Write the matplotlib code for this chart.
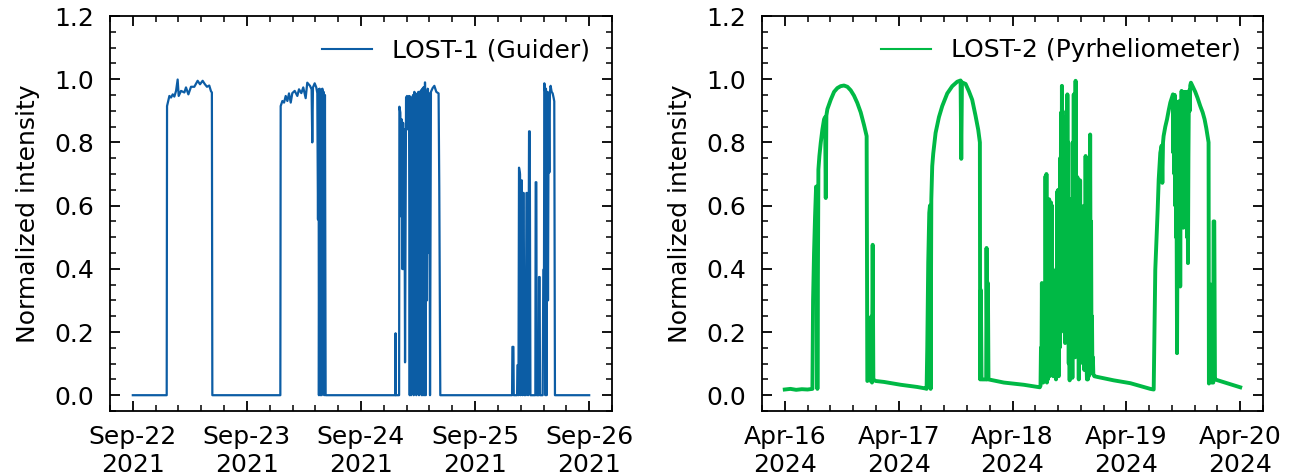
import matplotlib
matplotlib.use("Agg")
import matplotlib.pyplot as plt
import matplotlib.dates as mdates
from matplotlib.ticker import AutoMinorLocator, MultipleLocator, FormatStrFormatter
import pandas as pd

# ---------------- data ----------------
lost1_start = "2021-09-22"
lost1_days = [
    0.0, 0.297, 0.300, 0.3205, 0.335, 0.350, 0.364, 0.379, 0.393, 0.402, 0.4225, 0.452, 0.466,
    0.487, 0.510, 0.539, 0.568, 0.589, 0.612, 0.632, 0.650, 0.670, 0.685, 0.693, 0.697,
    1.293, 1.296, 1.311, 1.3255, 1.340, 1.3546, 1.369, 1.384, 1.398, 1.419, 1.442, 1.4566,
    1.477, 1.494, 1.515, 1.529, 1.553, 1.567, 1.573, 1.579, 1.594, 1.608, 1.617, 1.623,
    1.6285, 1.631, 1.637, 1.643, 1.649, 1.655, 1.661, 1.666, 1.672, 1.678, 1.684, 1.690,
    2.301, 2.303, 2.305, 2.334, 2.3365, 2.345, 2.351, 2.357, 2.363, 2.369, 2.374, 2.380,
    2.386, 2.395, 2.4035, 2.412, 2.421,
    2.427, 2.433, 2.439, 2.4445, 2.450, 2.456, 2.462, 2.468, 2.4735, 2.479, 2.485, 2.491,
    2.497, 2.503, 2.5085, 2.514, 2.520, 2.526, 2.532, 2.538, 2.543, 2.549, 2.555, 2.561,
    2.567, 2.573, 2.578, 2.584,
    2.587, 2.593, 2.599, 2.605, 2.613, 2.628, 2.643, 2.660, 2.680, 2.686, 2.695,
    3.324, 3.327, 3.336, 3.339, 3.368, 3.371, 3.377, 3.380, 3.385, 3.394, 3.397, 3.403,
    3.409, 3.415, 3.420, 3.426, 3.432, 3.438, 3.444, 3.450, 3.458, 3.4645, 3.473, 3.479,
    3.485, 3.528, 3.531, 3.537, 3.540, 3.557, 3.560, 3.566, 3.569, 3.5925, 3.598, 3.604,
    3.607, 3.613, 3.616, 3.621, 3.627, 3.633, 3.639, 3.645, 3.651, 3.656, 3.662, 3.671,
    3.680, 3.689, 3.694, 3.700,
    4.0,
]
lost1_values = [
    0.0, 0.0, 0.915, 0.947, 0.942, 0.952, 0.945, 0.963, 0.999, 0.947, 0.963, 0.958, 0.974,
    0.952, 0.976, 0.976, 0.995, 0.984, 0.995, 0.984, 0.976, 0.980, 0.962, 0.958, 0.0,
    0.0, 0.915, 0.931, 0.926, 0.947, 0.931, 0.955, 0.926, 0.956, 0.963, 0.947, 0.968,
    0.956, 0.974, 0.940, 0.989, 0.979, 0.968, 0.800, 0.974, 0.987, 0.974, 0.956, 0.556,
    0.968, 0.0, 0.97, 0.0, 0.96, 0.0, 0.97, 0.02, 0.96, 0.0, 0.95, 0.0,
    0.0, 0.196, 0.0, 0.0, 0.913, 0.894, 0.566, 0.873, 0.399, 0.862, 0.399, 0.841,
    0.104, 0.942, 0.947, 0.841, 0.947,
    0.0, 0.945, 0.0, 0.94, 0.01, 0.95, 0.0, 0.96, 0.40, 0.955, 0.0, 0.95,
    0.02, 0.96, 0.0, 0.96, 0.05, 0.965, 0.0, 0.97, 0.0, 0.975, 0.0, 0.99,
    0.0, 0.96, 0.3, 0.97,
    0.968, 0.45, 0.955, 0.0, 0.96, 0.972, 0.979, 0.96, 0.955, 0.661, 0.0,
    0.0, 0.153, 0.153, 0.0, 0.0, 0.095, 0.095, 0.0, 0.72, 0.70, 0.0, 0.34,
    0.68, 0.0, 0.64, 0.64, 0.0, 0.3, 0.0, 0.64, 0.64, 0.0, 0.835, 0.835,
    0.0, 0.0, 0.674, 0.674, 0.0, 0.0, 0.374, 0.374, 0.0, 0.0, 0.397, 0.40,
    0.987, 0.96, 0.0, 0.97, 0.0, 0.96, 0.30, 0.957, 0.705, 0.96, 0.979, 0.96,
    0.955, 0.94, 0.93, 0.0,
    0.0,
]

lost2_start = "2024-04-16"
lost2_days = [
    # day 1
    0.0, 0.05, 0.10, 0.15, 0.20, 0.2427, 0.2485, 0.257, 0.266, 0.275, 0.281, 0.2865,
    0.2953, 0.304, 0.316, 0.3304, 0.345, 0.354, 0.360, 0.3655, 0.374, 0.4035, 0.433,
    0.462, 0.491, 0.520, 0.550, 0.579, 0.608, 0.637, 0.667, 0.696, 0.719, 0.725, 0.740,
    0.754, 0.760, 0.766, 0.772, 0.778, 0.798, 0.871, 1.018, 1.164, 1.240,
    # day 2
    1.2456, 1.2515, 1.260, 1.269, 1.275, 1.281, 1.287, 1.295, 1.304, 1.3245, 1.354,
    1.383, 1.427, 1.471, 1.5146, 1.544, 1.550, 1.556, 1.588, 1.617, 1.646, 1.675, 1.699,
    1.7135, 1.716, 1.722, 1.728, 1.769, 1.772, 1.778, 1.784, 1.789, 1.924, 2.099, 2.240,
    # day 3
    2.246, 2.250, 2.254, 2.258, 2.262, 2.266, 2.270, 2.274, 2.278, 2.282, 2.286, 2.290,
    2.294, 2.298, 2.302, 2.306, 2.310, 2.314, 2.318, 2.322, 2.326, 2.330, 2.334, 2.338,
    2.342, 2.346, 2.350, 2.354, 2.358, 2.362, 2.366, 2.370, 2.374, 2.378, 2.382, 2.386,
    2.390, 2.394, 2.398, 2.402, 2.406, 2.410, 2.414, 2.418, 2.422, 2.426, 2.430, 2.434,
    2.438, 2.442, 2.446, 2.450, 2.454, 2.458, 2.462, 2.466, 2.470, 2.474, 2.478, 2.482,
    2.486, 2.490, 2.494, 2.498, 2.502, 2.506, 2.510, 2.514, 2.518, 2.522, 2.526, 2.530,
    2.534, 2.538, 2.542, 2.546, 2.550, 2.554, 2.558, 2.562, 2.566, 2.570, 2.574, 2.578,
    2.582, 2.586, 2.590, 2.594, 2.598, 2.602, 2.606, 2.610, 2.614, 2.618, 2.622, 2.626,
    2.630, 2.634, 2.638, 2.642, 2.646, 2.650, 2.654, 2.658, 2.662, 2.666, 2.670, 2.674,
    2.678, 2.682, 2.686, 2.690, 2.694, 2.698, 2.702, 2.706, 2.710, 2.719, 2.743, 2.889,
    3.035, 3.2105,
    # day 4
    3.240, 3.246, 3.254, 3.263, 3.275, 3.284, 3.298, 3.310, 3.316, 3.322, 3.327, 3.342,
    3.357, 3.371, 3.386, 3.403, 3.409, 3.413, 3.417, 3.421, 3.425, 3.429, 3.433, 3.437,
    3.441, 3.445, 3.449, 3.453, 3.457, 3.461, 3.465, 3.469, 3.473, 3.477, 3.481, 3.485,
    3.489, 3.493, 3.497, 3.501, 3.505, 3.509, 3.513, 3.517, 3.521, 3.525, 3.529, 3.533,
    3.537, 3.541, 3.545, 3.549, 3.553, 3.557, 3.561, 3.567, 3.585, 3.605, 3.626, 3.649,
    3.670, 3.687, 3.702, 3.713, 3.722, 3.725, 3.731, 3.737, 3.743, 3.749, 3.763, 3.766,
    3.772, 3.778, 3.795, 3.912, 4.0,
]
lost2_values = [
    # day 1
    0.018, 0.02, 0.017, 0.019, 0.018, 0.02, 0.30, 0.45, 0.566, 0.66, 0.66, 0.02,
    0.714, 0.757, 0.799, 0.841, 0.873, 0.88, 0.624, 0.885, 0.905, 0.935, 0.96,
    0.972, 0.978, 0.98, 0.976, 0.965, 0.948, 0.925, 0.895, 0.855, 0.82, 0.045, 0.05,
    0.045, 0.249, 0.04, 0.476, 0.05, 0.045, 0.042, 0.033, 0.026, 0.021,
    # day 2
    0.02, 0.15, 0.42, 0.577, 0.60, 0.02, 0.62, 0.725, 0.765, 0.83, 0.88,
    0.915, 0.955, 0.978, 0.992, 0.996, 0.748, 0.99, 0.985, 0.962, 0.935, 0.885, 0.84,
    0.80, 0.05, 0.333, 0.05, 0.05, 0.466, 0.05, 0.355, 0.05, 0.04, 0.033, 0.025,
    # day 3
    0.03, 0.15, 0.05, 0.355, 0.06, 0.30, 0.04, 0.35, 0.10, 0.25, 0.05, 0.693,
    0.15, 0.70, 0.04, 0.30, 0.05, 0.619, 0.10, 0.62, 0.06, 0.45, 0.07, 0.61,
    0.12, 0.60, 0.08, 0.25, 0.06, 0.30, 0.10, 0.28, 0.08, 0.22, 0.05, 0.40,
    0.10, 0.645, 0.20, 0.65, 0.06, 0.40, 0.15, 0.75, 0.20, 0.894, 0.30, 0.979,
    0.25, 0.85, 0.33, 0.88, 0.20, 0.80, 0.165, 0.85, 0.30, 0.90, 0.25, 0.952,
    0.40, 0.80, 0.10, 0.60, 0.047, 0.62, 0.20, 0.55, 0.08, 0.45, 0.055, 0.80,
    0.30, 0.952, 0.20, 0.90, 0.12, 0.995, 0.35, 0.69, 0.25, 0.69, 0.15, 0.55,
    0.05, 0.60, 0.10, 0.68, 0.20, 0.60, 0.12, 0.50, 0.15, 0.52, 0.10, 0.40,
    0.08, 0.60, 0.20, 0.757, 0.30, 0.10, 0.05, 0.10, 0.05, 0.25, 0.06, 0.60,
    0.20, 0.825, 0.30, 0.55, 0.12, 0.25, 0.07, 0.12, 0.065, 0.06, 0.058, 0.047,
    0.038, 0.02,
    # day 4
    0.018, 0.185, 0.397, 0.48, 0.587, 0.683, 0.767, 0.79, 0.672, 0.80, 0.82, 0.85,
    0.873, 0.90, 0.926, 0.945, 0.952, 0.767, 0.95, 0.70, 0.95, 0.60, 0.93, 0.50,
    0.60, 0.133, 0.50, 0.85, 0.40, 0.93, 0.60, 0.90, 0.344, 0.80, 0.55, 0.963,
    0.65, 0.96, 0.60, 0.53, 0.90, 0.55, 0.96, 0.70, 0.96, 0.60, 0.90, 0.50,
    0.85, 0.418, 0.75, 0.95, 0.965, 0.90, 0.98, 0.989, 0.975, 0.96, 0.94, 0.915,
    0.895, 0.873, 0.845, 0.82, 0.80, 0.037, 0.05, 0.344, 0.35, 0.04, 0.04, 0.55,
    0.55, 0.05, 0.048, 0.035, 0.025,
]

lost1_label = "LOST-1 (Guider)"
lost2_label = "LOST-2 (Pyrheliometer)"
y_label = "Normalized intensity"
y_ticks = [0.0, 0.2, 0.4, 0.6, 0.8, 1.0, 1.2]

# ---------------- styling ----------------
plt.rcParams["font.family"] = ["DejaVu Sans"]
plt.rcParams["font.size"] = 18

blue = "#0C5DA5"
green = "#00B945"

t1 = pd.Timestamp(lost1_start) + pd.to_timedelta(lost1_days, unit="D")
t2 = pd.Timestamp(lost2_start) + pd.to_timedelta(lost2_days, unit="D")

fig = plt.figure(figsize=(12.95, 4.75), dpi=100)
ax1 = fig.add_axes([110 / 1295, 1 - 411 / 475, 502 / 1295, 395 / 475])
ax2 = fig.add_axes([762 / 1295, 1 - 411 / 475, 501 / 1295, 395 / 475])

ax1.plot(t1, lost1_values, color=blue, lw=1.6, label=lost1_label)
ax2.plot(t2, lost2_values, color=green, lw=2.8, label=lost2_label)

for ax in (ax1, ax2):
    ax.set_ylim(-0.05, 1.2)
    ax.set_yticks(y_ticks)
    ax.yaxis.set_minor_locator(MultipleLocator(0.05))
    ax.xaxis.set_major_locator(mdates.DayLocator())
    ax.xaxis.set_major_formatter(mdates.DateFormatter("%b-%d\n%Y"))
    ax.xaxis.set_minor_locator(AutoMinorLocator(5))
    ax.yaxis.set_major_formatter(FormatStrFormatter("%.1f"))
    ax.tick_params(which="both", direction="in", top=True, right=True)
    ax.tick_params(which="major", length=7.5, width=1.3)
    ax.tick_params(which="minor", length=4.2, width=1.1)
    ax.tick_params(axis="x", which="major", pad=10)
    ax.tick_params(axis="y", which="major", pad=11.5)
    for s in ax.spines.values():
        s.set_linewidth(1.3)
    ax.set_ylabel(y_label, labelpad=10)
    leg = ax.legend(loc="upper right", frameon=False, fontsize=18)
    for ln in leg.get_lines():
        ln.set_linewidth(1.5)

fig.savefig("out.png", dpi=100)
